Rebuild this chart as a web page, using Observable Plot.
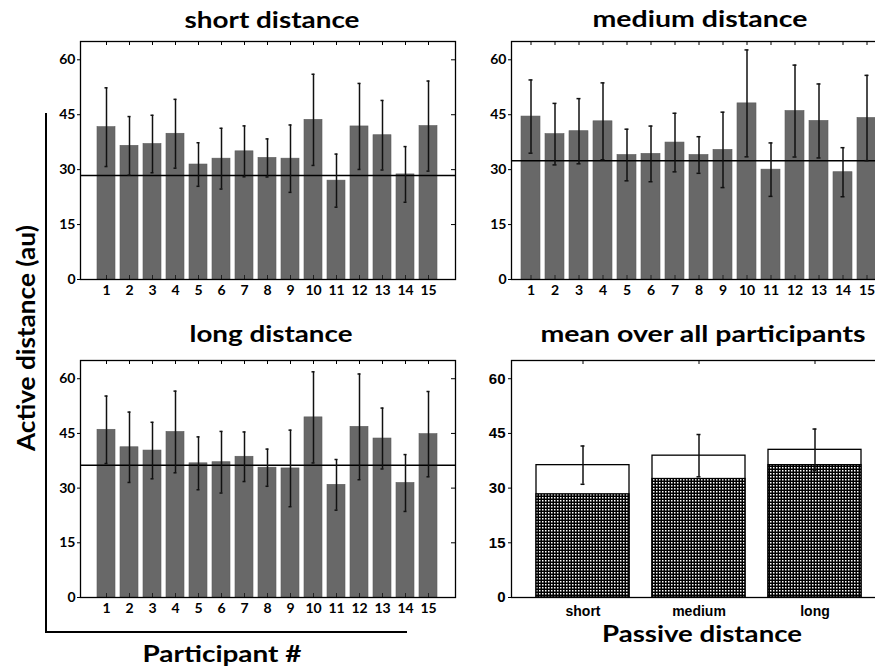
<!DOCTYPE html>
<html><head><meta charset="utf-8">
<script src="https://cdn.jsdelivr.net/npm/d3@7"></script>
<script src="https://cdn.jsdelivr.net/npm/@observablehq/plot@0.6"></script>
<style>
body{margin:0;background:#fff;}
#root{position:relative;width:875px;height:671px;overflow:hidden;background:#fff;}
#root svg{position:absolute;background:transparent !important;max-width:none !important;overflow:visible;}
</style></head><body><div id="root"></div>
<script>
const participants = [1,2,3,4,5,6,7,8,9,10,11,12,13,14,15];
const yTicks = [0,15,30,45,60];

const shortMean = [41.6,36.5,37.0,39.8,31.4,33.0,35.0,33.2,33.0,43.6,27.0,41.8,39.4,28.7,41.9];
const shortErr  = [10.75,8.0,7.85,9.4,5.95,8.3,6.95,5.2,9.2,12.45,7.25,11.75,9.5,7.6,12.3];
const shortPassive = 28.4;

const mediumMean = [44.5,39.7,40.5,43.2,34.0,34.3,37.4,34.0,35.4,48.1,30.0,46.0,43.3,29.3,44.1];
const mediumErr  = [10.0,8.4,8.9,10.5,7.05,7.6,8.0,5.0,10.3,14.6,7.3,12.55,10.1,6.7,11.65];
const mediumPassive = 32.4;

const longMean = [46.0,41.2,40.3,45.4,36.8,37.1,38.6,35.6,35.4,49.4,30.9,46.8,43.6,31.4,44.8];
const longErr  = [9.25,9.65,7.75,11.2,7.25,8.45,6.8,5.1,10.5,12.5,6.95,14.5,8.35,7.8,11.7];
const longPassive = 36.3;

const meanCats = ["short","medium","long"];
const meanActive = [36.3,38.9,40.5];
const meanErr = [5.25,5.8,5.7];
const meanPassive = [28.3,32.5,36.3];

const root = document.getElementById("root");

function place(svg, left, top) {
  svg.style.left = left + "px";
  svg.style.top = top + "px";
  root.appendChild(svg);
}

function barPanel(means, errs, passive, left, top, width, height, mL, mR, mT, mB) {
  const data = participants.map((p, i) => ({p, v: means[i], e: errs[i]}));
  const innerH = height - mT - mB, innerW = width - mL - mR;
  const svg = Plot.plot({
    width, height, marginLeft: mL, marginRight: mR, marginTop: mT, marginBottom: mB,
    style: {fontFamily: "Lato, sans-serif", fontSize: "14px", fontWeight: 700, color: "#000", background: "transparent"},
    x: {type: "band", domain: participants, paddingInner: 0.2, paddingOuter: 0.43, label: null},
    y: {domain: [0, 65], label: null},
    marks: [
      Plot.barY(data, {x: "p", y: "v", fill: "#686868", stroke: "#5a5a5a", strokeWidth: 0.6}),
      Plot.ruleY([passive], {stroke: "#000", strokeWidth: 1.5}),
      Plot.ruleX(data, {x: "p", y1: d => d.v - d.e, y2: d => d.v + d.e, stroke: "#111", strokeWidth: 1.5}),
      Plot.tickY(data, {x: "p", y: d => d.v + d.e, insetLeft: 7.5, insetRight: 7.5, stroke: "#111", strokeWidth: 1.5}),
      Plot.tickY(data, {x: "p", y: d => d.v - d.e, insetLeft: 7.5, insetRight: 7.5, stroke: "#111", strokeWidth: 1.5}),
      Plot.tickX(participants, {x: d => d, insetBottom: innerH - 4, stroke: "#000"}),
      Plot.tickX(participants, {x: d => d, insetTop: innerH - 4, stroke: "#222"}),
      Plot.tickY(yTicks, {y: d => d, insetLeft: innerW - 4, stroke: "#000"}),
      Plot.frame({stroke: "#000", strokeWidth: 1.3}),
      Plot.axisY({ticks: yTicks, tickSize: 3, tickPadding: 2, label: null}),
      Plot.axisX({tickSize: 0, tickPadding: 6, label: null})
    ]
  });
  place(svg, left, top);
}

function meanPanel(left, top, width, height, mL, mR, mT, mB) {
  const md = meanCats.map((c, i) => ({c, a: meanActive[i], p: meanPassive[i], e: meanErr[i]}));
  const innerH = height - mT - mB;
  const svg = Plot.plot({
    width, height, marginLeft: mL, marginRight: mR, marginTop: mT, marginBottom: mB,
    style: {fontFamily: "'Liberation Sans', Arial, sans-serif", fontSize: "15px", fontWeight: 700, color: "#000", background: "transparent"},
    x: {type: "band", domain: meanCats, paddingInner: 0.2, paddingOuter: 0.2, label: null},
    y: {domain: [0, 65], label: null},
    marks: [
      Plot.barY(md, {x: "c", y: "a", fill: "white", stroke: "#000", strokeWidth: 1.3}),
      Plot.barY(md, {x: "c", y: "p", fill: "url(#dots)", stroke: "#000", strokeWidth: 1.3}),
      Plot.ruleX(md, {x: "c", y1: d => d.a - d.e, y2: d => d.a + d.e, stroke: "#111", strokeWidth: 1.5}),
      Plot.tickY(md, {x: "c", y: d => d.a + d.e, insetLeft: 44.5, insetRight: 44.5, stroke: "#111", strokeWidth: 1.5}),
      Plot.tickY(md, {x: "c", y: d => d.a - d.e, insetLeft: 44.5, insetRight: 44.5, stroke: "#111", strokeWidth: 1.5}),
      Plot.tickX(meanCats, {x: d => d, insetBottom: innerH - 4, stroke: "#000"}),
      Plot.frame({stroke: "#000", strokeWidth: 1.3}),
      Plot.axisY({ticks: yTicks, tickSize: 3, tickPadding: 3, label: null}),
      Plot.axisX({tickSize: 0, tickPadding: 9, fontSize: 14, label: null})
    ]
  });
  d3.select(svg).insert("defs", ":first-child").html(
    '<pattern id="dots" width="3" height="3" patternUnits="userSpaceOnUse">' +
    '<rect width="3" height="3" fill="#000"/><rect x="1" y="1" width="1.5" height="1.5" fill="#fff"/></pattern>');
  place(svg, left, top);
}

// overlay for titles and shared labels
const ov = d3.create("svg").attr("width", 875).attr("height", 671)
  .style("left", "0px").style("top", "0px")
  .style("font-family", "Lato, sans-serif").style("font-weight", 700);
ov.append("line").attr("x1", 46).attr("x2", 46).attr("y1", 113).attr("y2", 633).attr("stroke", "#000").attr("stroke-width", 2);
ov.append("line").attr("x1", 45).attr("x2", 407).attr("y1", 632).attr("y2", 632).attr("stroke", "#000").attr("stroke-width", 2);
const texts = [
  ["short distance", 272, 28, 175],
  ["medium distance", 700, 27, 215],
  ["long distance", 271, 342, 163],
  ["mean over all participants", 703, 342, 325],
  ["Passive distance", 702, 642, 200],
  ["Participant #", 222, 662, 159]
];
texts.forEach(([t, x, y, w]) => ov.append("text").attr("x", x).attr("y", y)
  .attr("text-anchor", "middle").attr("font-size", 23)
  .attr("textLength", w).attr("lengthAdjust", "spacingAndGlyphs").text(t));
ov.append("text").attr("transform", "translate(35,338) rotate(-90)")
  .attr("text-anchor", "middle").attr("font-size", 25)
  .attr("textLength", 226).attr("lengthAdjust", "spacingAndGlyphs").text("Active distance (au)");
root.appendChild(ov.node());

barPanel(shortMean, shortErr, shortPassive, 0, 0, 460, 310, 80, 5, 41, 31);
barPanel(mediumMean, mediumErr, mediumPassive, 460, 0, 440, 310, 51, 13, 41, 31);
barPanel(longMean, longErr, longPassive, 0, 310, 460, 310, 80, 5, 50, 23);
meanPanel(460, 310, 440, 310, 51, 15, 50, 23);
</script></body></html>
